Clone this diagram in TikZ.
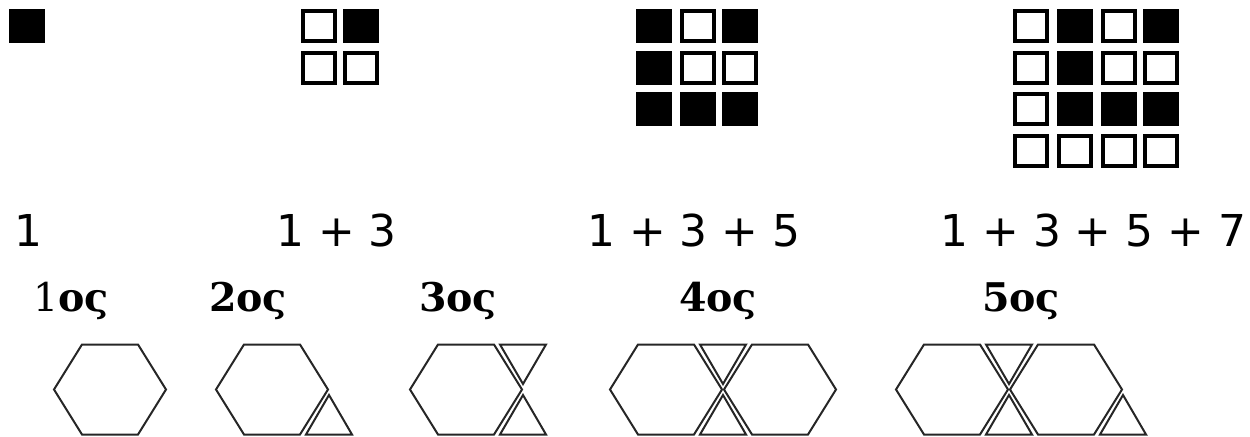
\documentclass[tikz,border=0pt]{standalone}
\usepackage{fontspec}
\usepackage{tikz}
\newfontfamily\sumfont{DejaVu Sans}
\newfontfamily\rankfont{DejaVu Serif}
\tikzset{cell/.style = {shape = rectangle, draw, line width = 0.08cm, minimum width = 0.64cm, minimum height = 0.6cm, inner sep = 0}}
\tikzset{blackcell/.style = {cell, fill = black}}
\tikzset{whitecell/.style = {cell, fill = white}}
\tikzset{sumtext/.style = {anchor = base west, inner sep = 0, font = \sumfont\fontsize{25}{30}\selectfont}}
\tikzset{rank/.style = {anchor = base, inner sep = 0, font = \rankfont\bfseries\fontsize{22.5}{27}\selectfont}}
\tikzset{tile/.style = {draw = black!85, line width = 0.04cm, line join = miter}}
\tikzset{hexa/.pic = {\draw[tile] (-56,0) -- (-28,-45) -- (28,-45) -- (56,0) -- (28,45) -- (-28,45) -- cycle;}}
\tikzset{uptri/.pic = {\draw[tile] (57,5.5) -- (80,45) -- (34,45) -- cycle;}}
\tikzset{downtri/.pic = {\draw[tile] (57,-5.5) -- (80,-45) -- (34,-45) -- cycle;}}

\begin{document}
\begin{tikzpicture}[x = 0.02cm, y = -0.02cm]
	\useasboundingbox (0, 0) rectangle (1250, 436);

	% squares
	\node[blackcell] (one) at (27, 26) {};

	\node[whitecell] (two11) at (319, 26) {};
	\node[blackcell] (two12) at (361, 26) {};
	\node[whitecell] (two21) at (319, 68) {};
	\node[whitecell] (two22) at (361, 68) {};

	\node[blackcell] (three11) at (654, 26) {};
	\node[whitecell] (three12) at (698, 26) {};
	\node[blackcell] (three13) at (740, 26) {};
	\node[blackcell] (three21) at (654, 68) {};
	\node[whitecell] (three22) at (698, 68) {};
	\node[whitecell] (three23) at (740, 68) {};
	\node[blackcell] (three31) at (654, 109) {};
	\node[blackcell] (three32) at (698, 109) {};
	\node[blackcell] (three33) at (740, 109) {};

	\node[whitecell] (four11) at (1031, 26) {};
	\node[blackcell] (four12) at (1075, 26) {};
	\node[whitecell] (four13) at (1119, 26) {};
	\node[blackcell] (four14) at (1161, 26) {};
	\node[whitecell] (four21) at (1031, 68) {};
	\node[blackcell] (four22) at (1075, 68) {};
	\node[whitecell] (four23) at (1119, 68) {};
	\node[whitecell] (four24) at (1161, 68) {};
	\node[whitecell] (four31) at (1031, 109) {};
	\node[blackcell] (four32) at (1075, 109) {};
	\node[blackcell] (four33) at (1119, 109) {};
	\node[blackcell] (four34) at (1161, 109) {};
	\node[whitecell] (four41) at (1031, 151) {};
	\node[whitecell] (four42) at (1075, 151) {};
	\node[whitecell] (four43) at (1119, 151) {};
	\node[whitecell] (four44) at (1161, 151) {};

	% sums
	\node[sumtext] (sum1) at (14, 246) {1};
	\node[sumtext] (sum2) at (276, 246) {1 + 3};
	\node[sumtext] (sum3) at (587, 246) {1 + 3 + 5};
	\node[sumtext] (sum4) at (940, 246) {1 + 3 + 5 + 7};

	% ranks
	\node[rank] (rank1) at (71, 311) {{\mdseries 1}ος};
	\node[rank] (rank2) at (248, 311) {2ος};
	\node[rank] (rank3) at (458, 311) {3ος};
	\node[rank] (rank4) at (718, 311) {4ος};
	\node[rank] (rank5) at (1021, 311) {5ος};

	% tiles
	\pic at (110, 389.5) {hexa};

	\pic at (272, 389.5) {hexa};
	\pic at (272, 389.5) {uptri};

	\pic at (466, 389.5) {hexa};
	\pic at (466, 389.5) {downtri};
	\pic at (466, 389.5) {uptri};

	\pic at (666, 389.5) {hexa};
	\pic at (666, 389.5) {downtri};
	\pic at (666, 389.5) {uptri};
	\pic at (780, 389.5) {hexa};

	\pic at (952, 389.5) {hexa};
	\pic at (952, 389.5) {downtri};
	\pic at (952, 389.5) {uptri};
	\pic at (1066, 389.5) {hexa};
	\pic at (1066, 389.5) {uptri};
\end{tikzpicture}
\end{document}
